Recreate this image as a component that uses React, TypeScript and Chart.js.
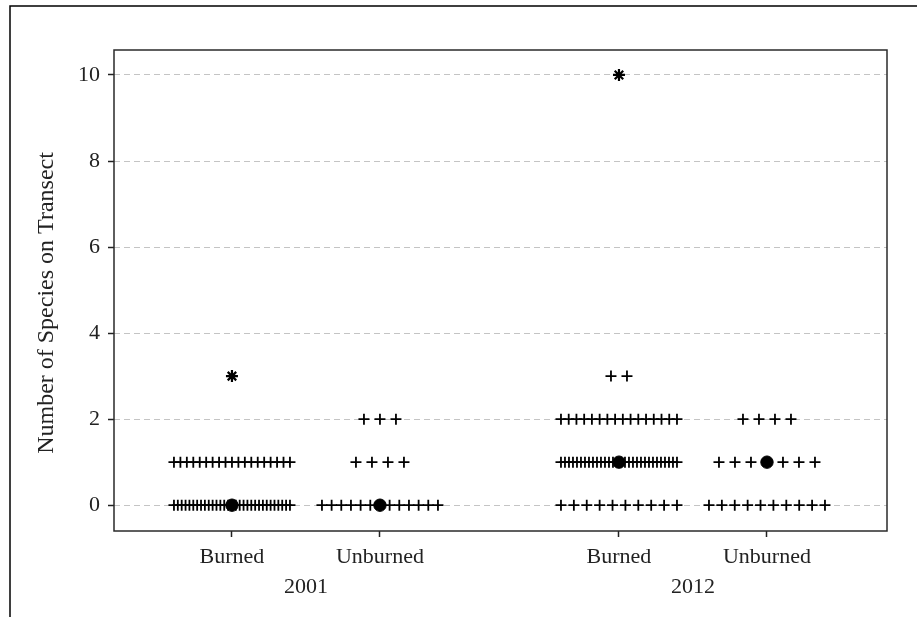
import React, { useEffect, useRef } from 'react';
import { Chart, registerables } from 'chart.js';

Chart.register(...registerables);

// ---------- data ----------
const groupLabels = ['Burned', 'Unburned', 'Burned', 'Unburned'];
const yearLabels = ['2001', '2012'];
const yAxisTitle = 'Number of Species on Transect';
const speciesLevels = [0, 1, 2, 3];
// number of transects observed at each species level (0,1,2,3)
const burned2001Counts = [31, 19, 0, 0];
const unburned2001Counts = [13, 4, 3, 0];
const burned2012Counts = [10, 30, 16, 2];
const unburned2012Counts = [10, 7, 4, 0];
// outlying observations (drawn as stars)
const burned2001Outliers = [3];
const unburned2001Outliers: number[] = [];
const burned2012Outliers = [10];
const unburned2012Outliers: number[] = [];
const groupMedians = [0, 0, 1, 1];
const yTicks = [0, 2, 4, 6, 8, 10];

// ---------- layout ----------
const GROUP_X = [1, 2, 3.615, 4.615];
const YEAR_X = [1.5, 4.115];
const X_MIN = 0.203;
const X_MAX = 5.426;
const Y_MIN = -0.6;
const Y_MAX = 10.58;
const PX_PER_UNIT = 148;
const MAX_STEP = 16 / PX_PER_UNIT;
const MAX_SPAN = 116 / PX_PER_UNIT;
const FONT = "'Liberation Serif', 'Times New Roman', Times, serif";

function spreadRow(center: number, level: number, n: number) {
  const step = n > 1 ? Math.min(MAX_STEP, MAX_SPAN / (n - 1)) : 0;
  return Array.from({ length: n }, (_, i) => ({ x: center + (i - (n - 1) / 2) * step, y: level }));
}

const framePlugin = {
  id: 'frame',
  afterDraw(chart: any) {
    const { ctx, chartArea } = chart;
    const { left, top, right, bottom } = chartArea;
    ctx.save();
    ctx.strokeStyle = '#2a2a2a';
    ctx.lineWidth = 1.5;
    ctx.strokeRect(left, top, right - left, bottom - top);
    ctx.strokeStyle = '#000';
    ctx.lineWidth = 1.5;
    ctx.beginPath();
    ctx.moveTo(10, 617);
    ctx.lineTo(10, 6);
    ctx.lineTo(917, 6);
    ctx.stroke();
    // y-axis title
    ctx.translate(47, 303);
    ctx.rotate(-Math.PI / 2);
    ctx.fillStyle = '#222';
    ctx.font = `24px ${FONT}`;
    ctx.textAlign = 'center';
    ctx.textBaseline = 'middle';
    ctx.fillText(yAxisTitle, 0, 0);
    ctx.restore();
  },
};

export default function App() {
  const canvasRef = useRef<HTMLCanvasElement | null>(null);

  useEffect(() => {
    if (!canvasRef.current) return;
    const countsByGroup = [burned2001Counts, unburned2001Counts, burned2012Counts, unburned2012Counts];
    const outliersByGroup = [burned2001Outliers, unburned2001Outliers, burned2012Outliers, unburned2012Outliers];

    const plusData: { x: number; y: number }[] = [];
    countsByGroup.forEach((counts, g) => {
      counts.forEach((n, li) => {
        plusData.push(...spreadRow(GROUP_X[g], speciesLevels[li], n));
      });
    });
    const outlierData: { x: number; y: number }[] = [];
    outliersByGroup.forEach((arr, g) => arr.forEach((v) => outlierData.push({ x: GROUP_X[g], y: v })));
    const medianData = groupMedians.map((m, g) => ({ x: GROUP_X[g], y: m }));

    const chart = new Chart(canvasRef.current, {
      type: 'scatter',
      data: {
        datasets: [
          {
            label: 'Median',
            data: medianData,
            pointStyle: 'circle',
            pointRadius: 6.2,
            backgroundColor: '#000',
            borderColor: '#000',
            borderWidth: 1,
            order: 0,
          },
          {
            label: 'Outliers',
            data: outlierData,
            pointStyle: 'star',
            pointRadius: 6,
            backgroundColor: '#000',
            borderColor: '#000',
            borderWidth: 2.2,
            order: 1,
          },
          {
            label: 'Transects',
            data: plusData,
            pointStyle: 'cross',
            pointRadius: 5.5,
            backgroundColor: '#000',
            borderColor: '#000',
            borderWidth: 1.8,
            order: 2,
          },
        ],
      },
      options: {
        animation: false,
        responsive: false,
        layout: { padding: { top: 50, right: 30, left: 0, bottom: 0 } },
        plugins: { legend: { display: false }, tooltip: { enabled: false } },
        scales: {
          x: {
            type: 'linear',
            position: 'bottom',
            min: X_MIN,
            max: X_MAX,
            afterBuildTicks: (scale: any) => {
              scale.ticks = GROUP_X.map((v) => ({ value: v }));
            },
            afterFit: (scale: any) => {
              scale.height = 36;
            },
            ticks: {
              callback: (_v: any, i: number) => groupLabels[i],
              color: '#222',
              font: { family: FONT, size: 22 },
              padding: 7,
              maxRotation: 0,
              autoSkip: false,
            },
            grid: { drawOnChartArea: false, tickLength: 6, tickColor: '#222', tickWidth: 1.5 },
            border: { display: false },
          },
          x2: {
            type: 'linear',
            position: 'bottom',
            min: X_MIN,
            max: X_MAX,
            afterBuildTicks: (scale: any) => {
              scale.ticks = YEAR_X.map((v) => ({ value: v }));
            },
            afterFit: (scale: any) => {
              scale.height = 50;
            },
            ticks: {
              callback: (_v: any, i: number) => yearLabels[i],
              color: '#222',
              font: { family: FONT, size: 22 },
              padding: 7,
              maxRotation: 0,
              autoSkip: false,
            },
            grid: { display: false, drawTicks: false },
            border: { display: false },
          },
          y: {
            type: 'linear',
            min: Y_MIN,
            max: Y_MAX,
            afterBuildTicks: (scale: any) => {
              scale.ticks = yTicks.map((v) => ({ value: v }));
            },
            afterFit: (scale: any) => {
              scale.width = 114;
            },
            ticks: {
              color: '#222',
              font: { family: FONT, size: 22 },
              padding: 8,
            },
            grid: { color: '#c4c4c4', lineWidth: 1, tickLength: 6, tickColor: '#222', tickWidth: 1.5 },
            border: { display: false, dash: [6, 4] },
          },
        },
      },
      plugins: [framePlugin],
    } as any);

    return () => chart.destroy();
  }, []);

  return (
    <div style={{ position: 'fixed', left: 0, top: 0, width: 917, height: 617, background: '#fff' }}>
      <canvas ref={canvasRef} width={917} height={617} style={{ display: 'block' }} />
    </div>
  );
}
